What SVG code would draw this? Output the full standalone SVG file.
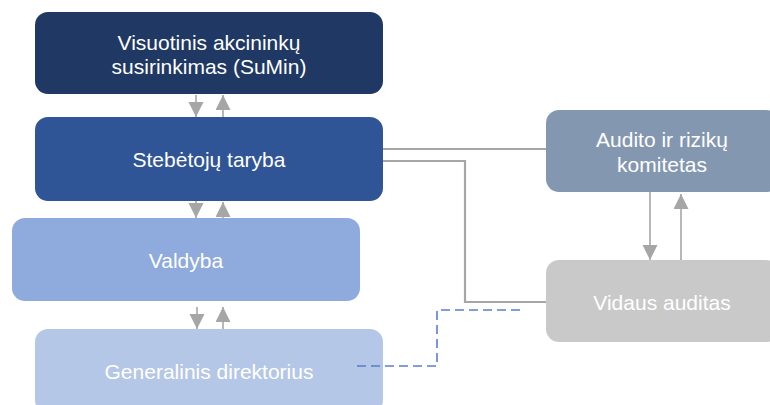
<svg xmlns="http://www.w3.org/2000/svg" width="770" height="405" viewBox="0 0 770 405">
  <defs>
    <style>
      .box { stroke: none; }
      .lbl { font-family: "Liberation Sans", Arial, sans-serif; font-size: 21px; fill: #FFFFFF; text-anchor: middle; }
      .arr { stroke: #A6A6A6; stroke-width: 1.6; fill: none; marker-end: url(#head); }
      .con { stroke: #A6A6A6; stroke-width: 2.2; fill: none; }
      .dash { stroke: #5A7ECB; stroke-width: 1.6; fill: none; stroke-dasharray: 9 5; }
    </style>
    <marker id="head" markerUnits="userSpaceOnUse" markerWidth="16" markerHeight="16" refX="15" refY="7.5" orient="auto">
      <path d="M0,0 L15,7.5 L0,15 z" fill="#A6A6A6"/>
    </marker>
  </defs>
  <rect width="770" height="405" fill="#FFFFFF"/>

  <g id="sumin">
    <rect class="box" x="35" y="12" width="348" height="82" rx="13" fill="#203864"/>
    <text class="lbl" x="209" y="50">Visuotinis akcininkų</text>
    <text class="lbl" x="209" y="74">susirinkimas (SuMin)</text>
  </g>
  <g id="taryba">
    <rect class="box" x="35" y="117" width="348" height="84" rx="13" fill="#2F5597"/>
    <text class="lbl" x="209" y="167">Stebėtojų taryba</text>
  </g>
  <g id="valdyba">
    <rect class="box" x="12" y="218" width="348" height="83" rx="13" fill="#8FAADC"/>
    <text class="lbl" x="186" y="268">Valdyba</text>
  </g>
  <g id="direktorius">
    <rect class="box" x="35" y="329" width="348" height="84" rx="13" fill="#B4C7E7"/>
    <text class="lbl" x="209" y="379">Generalinis direktorius</text>
  </g>
  <g id="komitetas">
    <rect class="box" x="546" y="110" width="233" height="82" rx="13" fill="#8497B0"/>
    <text class="lbl" x="662" y="147">Audito ir rizikų</text>
    <text class="lbl" x="662" y="172">komitetas</text>
  </g>
  <g id="vidaus">
    <rect class="box" x="546" y="260" width="233" height="82" rx="13" fill="#C9C9C9"/>
    <text class="lbl" x="662" y="310">Vidaus auditas</text>
  </g>

  <g id="connectors">
    <line class="arr" x1="196" y1="95" x2="196" y2="117"/>
    <line class="arr" x1="223" y1="117" x2="223" y2="95"/>
    <line class="arr" x1="196" y1="201" x2="196" y2="218"/>
    <line class="arr" x1="223" y1="218" x2="223" y2="202"/>
    <line class="arr" x1="197" y1="307" x2="197" y2="329"/>
    <line class="arr" x1="223" y1="329" x2="223" y2="307"/>
    <line class="arr" x1="650" y1="192" x2="650" y2="260"/>
    <line class="arr" x1="681" y1="260" x2="681" y2="194"/>
    <line class="con" x1="383" y1="149" x2="546" y2="149"/>
    <polyline class="con" points="383,161 465,161 465,302 546,302"/>
    <polyline class="dash" points="357,366 437,366 437,310 520,310"/>
  </g>
</svg>
